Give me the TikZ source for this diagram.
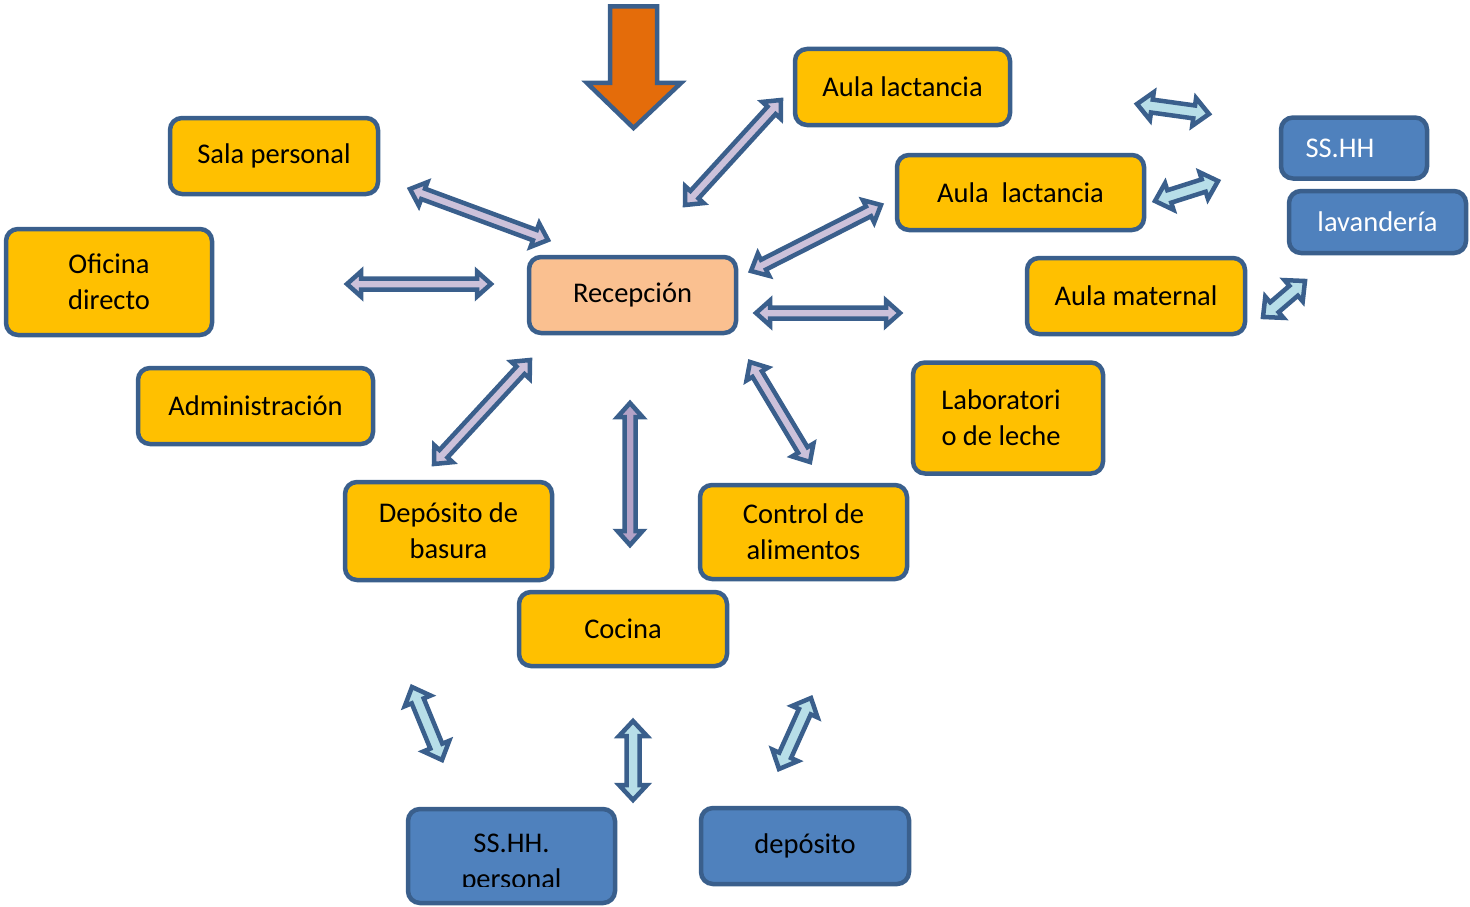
\documentclass[tikz,border=0pt]{standalone}
\usepackage{fontspec}
\setmainfont{Carlito}
\usetikzlibrary{calc}
\definecolor{bord}{HTML}{3A5F8C}
\definecolor{org}{HTML}{FFC000}
\definecolor{peach}{HTML}{FAC090}
\definecolor{blu}{HTML}{4F81BD}
\definecolor{lav}{HTML}{CCC1DA}
\definecolor{lavd}{HTML}{B3A2C7}
\definecolor{lblue}{HTML}{B7DEE8}
\definecolor{dorange}{HTML}{E46C0A}
% #1 A, #2 B, #3 shaft half width, #4 head half width, #5 head length, #6 style
\newcommand{\dblarr}[6]{%
 \draw[#6] (#1) -- ($(#1)!#5!(#2)!#4!90:(#2)$) -- ($(#1)!#5!(#2)!#3!90:(#2)$)
  -- ($(#2)!#5!(#1)!#3!-90:(#1)$) -- ($(#2)!#5!(#1)!#4!-90:(#1)$) -- (#2)
  -- ($(#2)!#5!(#1)!#4!90:(#1)$) -- ($(#2)!#5!(#1)!#3!90:(#1)$)
  -- ($(#1)!#5!(#2)!#3!-90:(#2)$) -- ($(#1)!#5!(#2)!#4!-90:(#2)$) -- cycle;}
\tikzset{
 box/.style={draw=bord, line width=4.5pt, rounded corners=12pt, inner sep=0pt,
   align=center, font=\fontsize{28.5}{36}\selectfont},
 obox/.style={box, fill=org},
 pbox/.style={box, fill=peach},
 bbox/.style={box, fill=blu},
 parr/.style={fill=lav, draw=bord, line width=4.5pt, line join=miter},
 parrd/.style={fill=lavd, draw=bord, line width=4.5pt, line join=miter},
 larr/.style={fill=lblue, draw=bord, line width=4.5pt, line join=miter},
}
\begin{document}
\begin{tikzpicture}[x=1pt,y=-1pt]
\useasboundingbox (0,0) rectangle (1470,907);
% entrance arrow
\draw[fill=dorange, draw=bord, line width=4.5pt, line join=miter]
  (610,6.5) -- (657,6.5) -- (657,83) -- (681,83) -- (633.5,128) -- (587,83) -- (610,83) -- cycle;
% boxes
\node[obox, minimum width=208, minimum height=76] (sala) at (274,156) {Sala personal};
\node[obox, minimum width=206, minimum height=106] (ofi) at (109,282) {Oficina\\directo};
\node[obox, minimum width=235, minimum height=76] (adm) at (255.5,406) {Administración};
\node[pbox, minimum width=207, minimum height=76] (rec) at (632.5,295) {Recepción};
\node[obox, minimum width=215, minimum height=76] (aul1) at (902.5,87) {Aula lactancia};
\node[obox, minimum width=247, minimum height=75] (aul2) at (1020.5,192.5) {Aula\ \ lactancia};
\node[bbox, minimum width=146, minimum height=61, text=white] (sshh) at (1354,148) {\hspace*{-28pt}SS.HH};
\node[bbox, minimum width=177, minimum height=62, text=white] (lav) at (1377.5,222) {lavandería};
\node[obox, minimum width=218, minimum height=76] (mat) at (1136,296) {Aula maternal};
\node[obox, minimum width=190, minimum height=111] (lab) at (1008,418) {\hspace*{-14pt}Laboratori\\\hspace*{-14pt}o de leche};
\node[obox, minimum width=207, minimum height=98] (bas) at (448.5,531) {Depósito de\\basura};
\node[obox, minimum width=207, minimum height=94] (ctl) at (803.5,532) {Control de\\alimentos};
\node[obox, minimum width=208, minimum height=74] (coc) at (623,629) {Cocina};
\node[bbox, minimum width=207, minimum height=94] (ssp) at (511.5,856) {};
\begin{scope}
 \clip (406,807) rectangle (617,886);
 \node[font=\fontsize{28.5}{36}\selectfont, align=center, inner sep=0pt] (ssptxt) at (511.5,864) {SS.HH.\\personal};
\end{scope}
\node[bbox, minimum width=208, minimum height=76] (dep) at (805,846) {depósito};
% arrow end points
\coordinate (a1s) at (410,189); \coordinate (a1e) at (548,240);
\coordinate (a2s) at (347,284); \coordinate (a2e) at (491,284);
\coordinate (a3s) at (685,205); \coordinate (a3e) at (781,100);
\coordinate (a4s) at (751,271); \coordinate (a4e) at (881,205);
\coordinate (a5s) at (756,313); \coordinate (a5e) at (900,313);
\coordinate (a6s) at (434,464); \coordinate (a6e) at (530,360);
\coordinate (a7s) at (630,403); \coordinate (a7e) at (630,545);
\coordinate (a8s) at (750,362); \coordinate (a8e) at (810,462);
\coordinate (b1s) at (1137,104); \coordinate (b1e) at (1209,114);
\coordinate (b2s) at (1155,201); \coordinate (b2e) at (1218,181);
\coordinate (b3s) at (1263,317); \coordinate (b3e) at (1305,281);
\coordinate (b4s) at (412,687); \coordinate (b4e) at (442,760);
\coordinate (b5s) at (633,721); \coordinate (b5e) at (633,800);
\coordinate (b6s) at (811,698); \coordinate (b6e) at (779,769);
% purple double arrows
\foreach \i in {1,...,6,8}{\dblarr{a\i s}{a\i e}{5.5pt}{12.5pt}{14pt}{parr}}
\dblarr{a7s}{a7e}{5.5pt}{12.5pt}{14pt}{parrd}
% light blue double arrows
\foreach \i in {1,...,6}{\dblarr{b\i s}{b\i e}{6.5pt}{14pt}{15pt}{larr}}
\end{tikzpicture}
\end{document}
